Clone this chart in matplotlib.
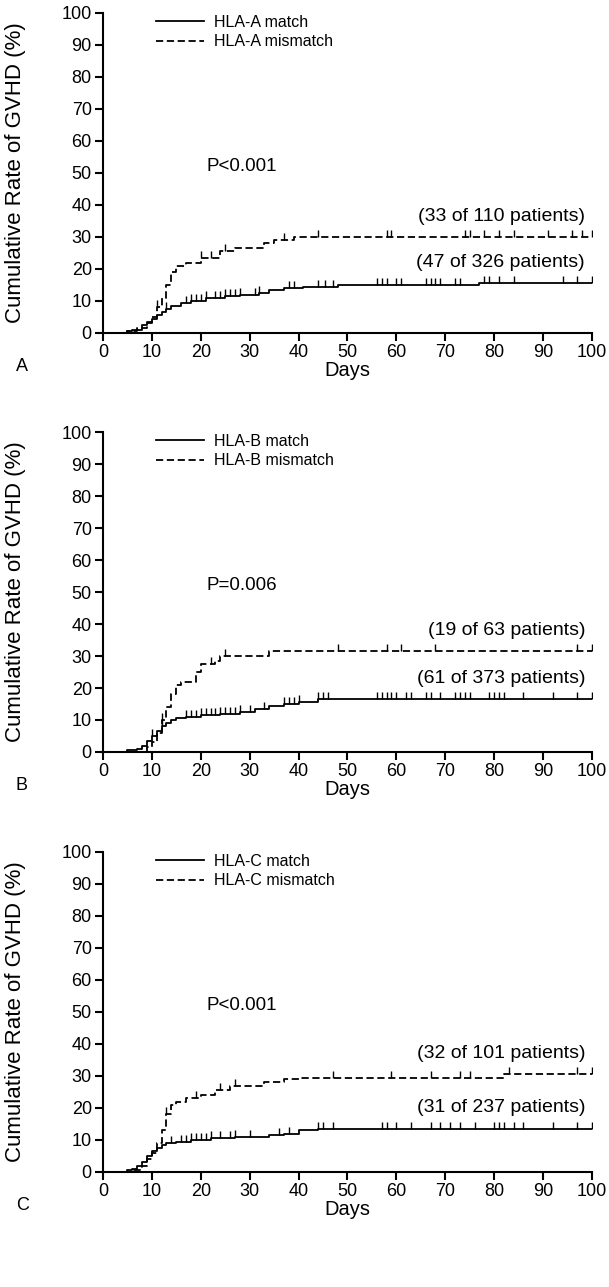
import numpy as np
import matplotlib.pyplot as plt

plt.rcParams['font.family'] = ['Liberation Sans', 'DejaVu Sans']

# panel A - HLA-A
a_match_t = [0, 5, 6, 8, 9, 10, 11, 12, 13, 14, 16, 18, 21, 25, 28, 32, 34, 37, 41, 48, 77]
a_match_y = [0, 0.5, 1, 2.5, 3.5, 4.5, 5.5, 6.5, 7.5, 8.5, 9.5, 10, 11, 11.5, 12, 12.5, 13.5, 14, 14.5, 15, 15.5]
a_mis_t = [0, 5, 7, 9, 10, 11, 12, 13, 14, 15, 17, 20, 24, 27, 33, 35, 39]
a_mis_y = [0, 0.5, 1.5, 3, 5, 8, 11, 15, 19, 21, 22, 23.5, 25.5, 26.5, 28, 29, 30]
a_match_cens = [13, 17, 18, 19, 20, 21, 23, 24, 25, 26, 27, 28, 31, 32, 38, 39, 44, 45.5, 47,
                56, 57, 58, 60, 61, 66, 67, 68, 69, 72, 73, 78, 79, 81, 84, 94, 97, 100]
a_mis_cens = [11, 20, 22, 25, 37, 44, 58, 59, 74, 75, 78, 81, 84, 91, 96, 98, 100]

# panel B - HLA-B
b_match_t = [0, 5, 7, 8, 9, 10, 11, 12, 13, 14, 15, 17, 20, 24, 28, 31, 34, 37, 40, 44]
b_match_y = [0, 0.5, 1, 2, 3.5, 5, 6.5, 8, 9, 10, 10.5, 11, 11.5, 12, 12.5, 13.5, 14.5, 15, 15.5, 16.5]
b_mis_t = [0, 9, 10, 11, 12, 13, 14, 15, 16, 19, 20, 23, 24, 34]
b_mis_y = [0, 1.5, 3, 6, 10, 14, 18, 21, 22, 25, 27.5, 28.5, 30, 31.5]
b_match_cens = [10, 12, 17, 18, 19, 20, 21, 22, 23, 24, 25, 26, 27, 28, 30, 33, 37, 38, 39, 40,
                44, 45, 46, 56, 57, 58, 59, 60, 62, 63, 66, 67, 69, 72, 73, 74, 75, 79, 80,
                81, 82, 86, 92, 97, 100]
b_mis_cens = [12, 22, 25, 48, 58, 61, 68, 97, 100]

# panel C - HLA-C
c_match_t = [0, 5, 6, 7, 8, 9, 10, 11, 12, 13, 15, 18, 22, 27, 34, 37, 40, 44]
c_match_y = [0, 0.5, 1, 2, 3, 5, 6.5, 7.5, 8.5, 9, 9.5, 10, 10.5, 11, 11.5, 12, 13, 13.5]
c_mis_t = [0, 6, 8, 9, 10, 11, 12, 13, 14, 15, 17, 20, 23, 26, 33, 37, 40, 82]
c_mis_y = [0, 0.5, 2, 4, 6, 9, 13, 18, 21, 22, 23, 24, 25.5, 27, 28, 29, 29.5, 30.5]
c_match_cens = [14, 16, 17, 18, 19, 20, 21, 22, 24, 26, 27, 30, 36, 38, 44, 45, 47, 57, 58, 60,
                63, 67, 69, 71, 73, 76, 80, 81, 82, 84, 86, 92, 97, 100]
c_mis_cens = [13, 19, 24, 27, 47, 59, 67, 73, 75, 83, 97, 100]

panels = [
    ('A', 'HLA-A', 'P<0.001', (a_match_t, a_match_y, a_match_cens, '(47 of 326 patients)'),
     (a_mis_t, a_mis_y, a_mis_cens, '(33 of 110 patients)')),
    ('B', 'HLA-B', 'P=0.006', (b_match_t, b_match_y, b_match_cens, '(61 of 373 patients)'),
     (b_mis_t, b_mis_y, b_mis_cens, '(19 of 63 patients)')),
    ('C', 'HLA-C', 'P<0.001', (c_match_t, c_match_y, c_match_cens, '(31 of 237 patients)'),
     (c_mis_t, c_mis_y, c_mis_cens, '(32 of 101 patients)')),
]

up_tick = [(0, 0), (0, 1)]  # censor mark pointing up


def draw_curve(ax, t, y, cens, ls, label):
    t = np.append(t, 100)
    y = np.append(y, y[-1])
    ax.step(t, y, where='post', color='k', lw=1.3, ls=ls, label=label)
    idx = np.searchsorted(t, cens, side='right') - 1
    ax.plot(cens, y[idx], ls='none', marker=up_tick, ms=10, mew=1.0, mec='k', mfc='none')


fig = plt.figure(figsize=(6.09, 12.87), dpi=100)
bottoms = [0.7413, 0.4157, 0.0894]

for (letter, name, ptxt, match, mis), b in zip(panels, bottoms):
    ax = fig.add_axes([0.169, b, 0.803, 0.2486])
    draw_curve(ax, match[0], match[1], match[2], '-', name + ' match')
    draw_curve(ax, mis[0], mis[1], mis[2], (0, (4, 2)), name + ' mismatch')

    ax.text(98.6, mis[1][-1] + 6.5, mis[3], ha='right', va='center', fontsize=14)
    ax.text(98.6, match[1][-1] + 6.5, match[3], ha='right', va='center', fontsize=14)
    ax.text(21.2, 52, ptxt, ha='left', va='center', fontsize=13.5)

    ax.set_xlim(0, 100)
    ax.set_ylim(0, 100)
    ax.set_xticks(np.arange(0, 101, 10))
    ax.set_yticks(np.arange(0, 101, 10))
    ax.spines['top'].set_visible(False)
    ax.spines['right'].set_visible(False)
    ax.spines['left'].set_linewidth(1.5)
    ax.spines['bottom'].set_linewidth(1.5)
    ax.tick_params(direction='out', length=6, width=1.5, labelsize=13, pad=2)
    ax.set_xlabel('Days', fontsize=14.5, labelpad=0)
    ax.set_ylabel('Cumulative Rate of GVHD (%)', fontsize=16)
    ax.yaxis.set_label_coords(-0.157, 0.5)
    ax.legend(loc='upper left', bbox_to_anchor=(0.08, 1.04), frameon=False, fontsize=11.5,
              handlelength=3.0, handletextpad=0.6, labelspacing=0.3)
    ax.text(-0.178, -0.105, letter, transform=ax.transAxes, fontsize=13, ha='left', va='center')

fig.savefig('out.png', dpi=100)
